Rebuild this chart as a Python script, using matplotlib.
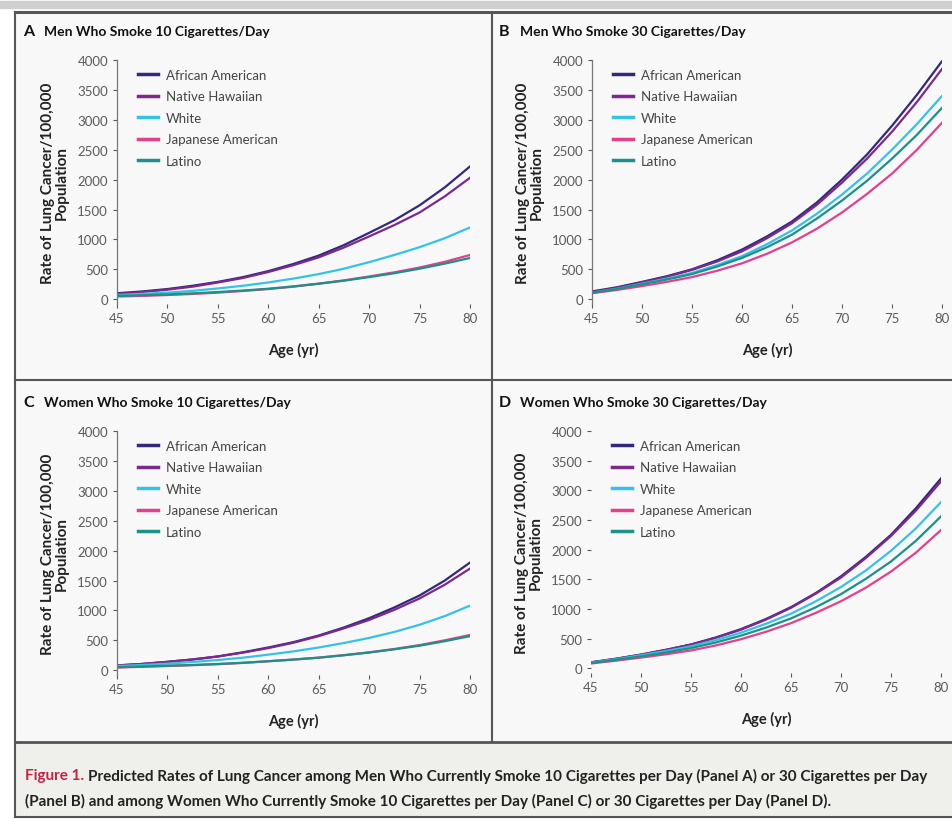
import matplotlib.pyplot as plt
from matplotlib.lines import Line2D
from matplotlib.patches import Rectangle

plt.rcParams['font.family'] = ['Lato', 'DejaVu Sans']

# Data (every 2.5 years)
ages = [45, 47.5, 50, 52.5, 55, 57.5, 60, 62.5, 65, 67.5, 70, 72.5, 75, 77.5, 80]
groups = ['African American', 'Native Hawaiian', 'White', 'Japanese American', 'Latino']
colors = ['#35287a', '#7b2a8c', '#35c2e3', '#e2408c', '#1d9088']

men_10 = {
    'African American': [100, 130, 170, 225, 290, 370, 470, 590, 730, 905, 1110, 1320, 1570, 1870, 2220],
    'Native Hawaiian': [90, 120, 160, 210, 280, 355, 455, 570, 700, 865, 1050, 1240, 1450, 1720, 2030],
    'White': [70, 90, 110, 140, 180, 225, 280, 345, 420, 510, 620, 740, 870, 1020, 1200],
    'Japanese American': [45, 55, 70, 88, 110, 138, 170, 210, 260, 315, 380, 450, 530, 625, 740],
    'Latino': [55, 67, 80, 98, 120, 145, 175, 215, 260, 310, 370, 435, 510, 595, 690],
}
men_30 = {
    'African American': [130, 200, 290, 385, 500, 650, 830, 1050, 1300, 1620, 2000, 2420, 2900, 3420, 3980],
    'Native Hawaiian': [120, 190, 280, 375, 490, 630, 800, 1020, 1270, 1580, 1950, 2350, 2800, 3300, 3850],
    'White': [110, 175, 260, 345, 440, 570, 720, 920, 1150, 1430, 1750, 2100, 2500, 2930, 3400],
    'Japanese American': [100, 155, 220, 290, 370, 475, 600, 760, 950, 1180, 1450, 1760, 2100, 2500, 2950],
    'Latino': [110, 170, 250, 330, 420, 545, 690, 870, 1080, 1350, 1650, 1980, 2350, 2750, 3200],
}
women_10 = {
    'African American': [80, 105, 140, 180, 230, 300, 380, 470, 580, 715, 870, 1050, 1250, 1500, 1800],
    'Native Hawaiian': [80, 105, 140, 180, 230, 295, 370, 460, 570, 700, 840, 1010, 1200, 1430, 1700],
    'White': [70, 88, 110, 138, 170, 210, 260, 315, 380, 455, 540, 640, 760, 905, 1080],
    'Japanese American': [45, 57, 70, 84, 100, 122, 150, 178, 210, 252, 300, 355, 420, 500, 590],
    'Latino': [50, 62, 75, 88, 105, 125, 150, 178, 210, 250, 295, 350, 410, 485, 570],
}
women_30 = {
    'African American': [100, 160, 230, 310, 400, 520, 660, 830, 1030, 1270, 1550, 1880, 2250, 2700, 3200],
    'Native Hawaiian': [100, 160, 230, 310, 400, 515, 650, 820, 1020, 1260, 1530, 1860, 2230, 2660, 3150],
    'White': [95, 152, 220, 290, 370, 475, 600, 750, 920, 1130, 1370, 1650, 1980, 2360, 2800],
    'Japanese American': [80, 128, 180, 236, 300, 385, 490, 615, 760, 935, 1130, 1360, 1630, 1950, 2330],
    'Latino': [90, 142, 200, 265, 340, 435, 550, 685, 840, 1030, 1250, 1510, 1800, 2150, 2560],
}

panels = [
    ('A', 'Men Who Smoke 10 Cigarettes/Day', men_10),
    ('B', 'Men Who Smoke 30 Cigarettes/Day', men_30),
    ('C', 'Women Who Smoke 10 Cigarettes/Day', women_10),
    ('D', 'Women Who Smoke 30 Cigarettes/Day', women_30),
]

W, H = 953, 820
fig = plt.figure(figsize=(W / 100, H / 100), dpi=100)
fig.patch.set_facecolor('white')


def fx(x):
    return x / W


def fy(y):
    return 1 - y / H


# backgrounds and frame
fig.add_artist(Rectangle((fx(15), fy(743)), 1, fy(13) - fy(743),
                         transform=fig.transFigure, color='#f8f8f8', zorder=-5))
fig.add_artist(Rectangle((fx(15), fy(818)), 1, fy(743) - fy(818),
                         transform=fig.transFigure, color='#efefec', zorder=-5))
fig.add_artist(Rectangle((0, fy(9)), 1, fy(2) - fy(9),
                         transform=fig.transFigure, color='#cfcfcf', zorder=-4))
for y, lw in [(13, 2.2), (381, 1.5), (743, 2.0), (818, 1.5)]:
    fig.add_artist(Line2D([fx(15), 1], [fy(y), fy(y)], color='#555555', lw=lw))
fig.add_artist(Line2D([fx(15), fx(15)], [fy(818), fy(13)], color='#555555', lw=1.5))
fig.add_artist(Line2D([fx(492), fx(492)], [fy(743), fy(13)], color='#555555', lw=1.5))

# axes boxes: left, top, right, bottom in pixels
boxes = [(117, 61, 470, 305), (592, 61, 942, 305),
         (117, 432, 470, 676), (591, 432, 941, 674)]

for (letter, title, data), (l, t, r, b) in zip(panels, boxes):
    ax = fig.add_axes([fx(l), fy(b), fx(r) - fx(l), fy(t) - fy(b)])
    ax.set_facecolor('none')
    for g, c in zip(groups, colors):
        ax.plot(ages, data[g], color=c, lw=1.6, label=g)
    ax.set_xlim(45, 80)
    ax.set_ylim(-80, 4000)
    ax.set_xticks(range(45, 81, 5))
    ax.set_yticks(range(0, 4001, 500))
    for s in ['top', 'right', 'bottom']:
        ax.spines[s].set_visible(False)
    ax.spines['left'].set_color('#777777')
    ax.spines['left'].set_linewidth(0.9)
    if letter == 'D':
        ax.spines['left'].set_visible(False)
    ax.tick_params(axis='both', labelsize=9.5, colors='#5a5a5a', length=3, width=0.8)
    ax.tick_params(axis='x', pad=3)
    ax.set_xlabel('Age (yr)', fontsize=10.5, fontweight='bold', color='#222222', labelpad=13)
    ax.set_ylabel('Rate of Lung Cancer/100,000\nPopulation', fontsize=11,
                  fontweight='bold', color='#222222', labelpad=6, linespacing=1.0)
    leg = ax.legend(loc='upper left', bbox_to_anchor=(0.045, 0.985), frameon=False,
                    fontsize=9.5, handlelength=1.5, handletextpad=0.6, labelspacing=0.72,
                    borderaxespad=0)
    for txt in leg.get_texts():
        txt.set_color('#444444')
    for line in leg.get_lines():
        line.set_linewidth(2.5)
    px = 23 if letter in 'AC' else 499
    py = 32 if letter in 'AB' else 403
    fig.text(fx(px), fy(py), letter, fontsize=11.5, fontweight='bold', va='center', color='#111111')
    fig.text(fx(px + 21), fy(py), title, fontsize=10, fontweight='bold', va='center', color='#111111')

# caption
renderer = fig.canvas.get_renderer()
cap_red = fig.text(fx(25), fy(776), 'Figure 1.', fontsize=11, fontweight='bold',
                   color='#c8203f', va='center')
ext = cap_red.get_window_extent(renderer)
fig.text((ext.x1 + 4) / W, fy(776), 'Predicted Rates of Lung Cancer among Men Who Currently Smoke '
         '10 Cigarettes per Day (Panel A) or 30 Cigarettes per Day', fontsize=11,
         fontweight='bold', color='#222222', va='center')
fig.text(fx(25), fy(801), '(Panel B) and among Women Who Currently Smoke 10 Cigarettes per Day '
         '(Panel C) or 30 Cigarettes per Day (Panel D).', fontsize=11, fontweight='bold',
         color='#222222', va='center')

fig.savefig('out.png', dpi=100)
